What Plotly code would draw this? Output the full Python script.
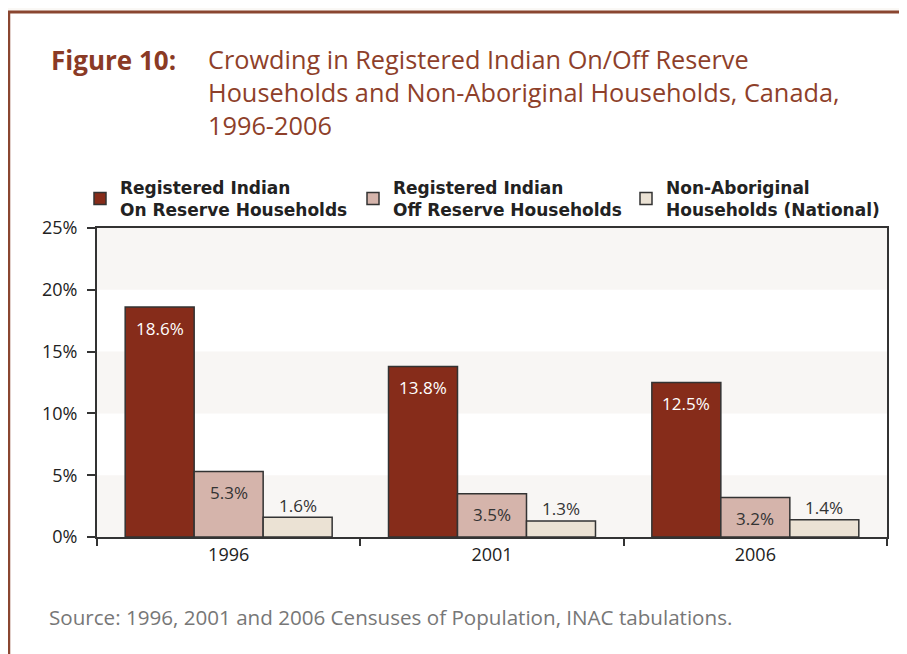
import plotly.graph_objects as go

years = ["1996", "2001", "2006"]
series_names = [
    "Registered Indian<br>On Reserve Households",
    "Registered Indian<br>Off Reserve Households",
    "Non-Aboriginal<br>Households (National)",
]
on_reserve = [18.6, 13.8, 12.5]
off_reserve = [5.3, 3.5, 3.2]
non_aboriginal = [1.6, 1.3, 1.4]
series_values = [on_reserve, off_reserve, non_aboriginal]
y_ticks = [0, 5, 10, 15, 20, 25]
y_tick_labels = [f"{t}%" for t in y_ticks]

colors = ["#862c1a", "#d5b4ab", "#ebe2d4"]
label_colors = ["#ffffff", "#333333", "#333333"]
FONT = "Open Sans"

OFF = 8  # page body margin offset
W, H = 907, 654
L = 97 - OFF
T = 228 - OFF
R = W - (887 - OFF)
B = H - (537 - OFF)
PW, PH = W - L - R, H - T - B


def px(X):
    return (X - OFF - L) / PW


def py(Y):
    return (H - B - (Y - OFF)) / PH


fig = go.Figure()
for name, vals, c in zip(series_names, series_values, colors):
    fig.add_trace(go.Bar(
        x=years, y=vals, name=name,
        marker=dict(color=c, line=dict(color="#333333", width=1.5)),
        hoverinfo="skip",
    ))

# value labels
bar_w = PW / 3 * (1 - 0.214) / 3
annotations = []
for i, (vals, lc) in enumerate(zip(series_values, label_colors)):
    for j, v in enumerate(vals):
        inside = i < 2
        annotations.append(dict(
            x=j, y=v, xref="x", yref="y", text=f"{v:.1f}%", showarrow=False,
            xshift=(i - 1) * bar_w, yshift=-21 if inside else 12,
            font=dict(family=FONT, size=17, color=lc),
        ))

annotations += [
    dict(xref="paper", yref="paper", x=px(49), y=py(60), xanchor="left", yanchor="middle",
         text="<b>Figure 10:</b>", showarrow=False,
         font=dict(family=FONT, size=26, color="#8a3a25")),
    dict(xref="paper", yref="paper", x=px(206), y=py(92), xanchor="left", yanchor="middle",
         align="left", showarrow=False,
         text="Crowding in Registered Indian On/Off Reserve<br>Households and Non-Aboriginal Households, Canada,<br>1996-2006",
         font=dict(family=FONT, size=25.3, color="#8e3f2a")),
    dict(xref="paper", yref="paper", x=px(47), y=py(617), xanchor="left", yanchor="middle",
         showarrow=False, text="Source: 1996, 2001 and 2006 Censuses of Population, INAC tabulations.",
         font=dict(family=FONT, size=20.6, color="#777777")),
]

shapes = [
    dict(type="rect", xref="paper", yref="paper", x0=px(8), x1=px(W + 20), y0=py(H + 20), y1=py(13),
         fillcolor="white", line=dict(width=0), layer="below"),
    dict(type="line", xref="paper", yref="paper", x0=px(8), x1=px(W + 20), y0=py(12), y1=py(12),
         line=dict(color="#8a4630", width=3)),
    dict(type="line", xref="paper", yref="paper", x0=px(9), x1=px(9), y0=py(11), y1=py(H + 20),
         line=dict(color="#8a4630", width=2.5)),
]
for lo in [0, 10, 20]:
    shapes.append(dict(type="rect", xref="paper", yref="y", x0=0, x1=1, y0=lo, y1=lo + 5,
                       fillcolor="#f8f6f4", line=dict(width=0), layer="below"))

fig.update_layout(
    width=W, height=H,
    margin=dict(l=L, r=R, t=T, b=B, autoexpand=False),
    paper_bgcolor="#faf8f5", plot_bgcolor="white",
    barmode="group", bargap=0.214, bargroupgap=0,
    font=dict(family=FONT, color="#222222"),
    showlegend=True,
    legend=dict(orientation="h", x=px(80), y=py(199), xanchor="left", yanchor="middle",
                font=dict(family="DejaVu Sans", size=17, color="#222222", weight="bold"),
                entrywidth=228, entrywidthmode="pixels", bgcolor="rgba(0,0,0,0)",
                traceorder="normal"),
    xaxis=dict(type="category", range=[-0.5, 2.5], showline=True, linecolor="#333333", linewidth=2,
               mirror=True, ticks="outside", tickson="boundaries", ticklen=7, tickcolor="#333333",
               tickwidth=2, tickfont=dict(family=FONT, size=18, color="#222222"), showgrid=False,
               tickangle=0),
    yaxis=dict(range=[0, 25], tickmode="array", tickvals=y_ticks, ticktext=y_tick_labels,
               showline=True, linecolor="#333333",
               linewidth=2, mirror=True, ticks="outside", ticklen=8, tickcolor="#333333", tickwidth=2,
               tickfont=dict(family=FONT, size=18, color="#222222"), showgrid=False, zeroline=False,
               ticklabelstandoff=6),
    annotations=annotations,
    shapes=shapes,
)

fig.write_html("out.html")
